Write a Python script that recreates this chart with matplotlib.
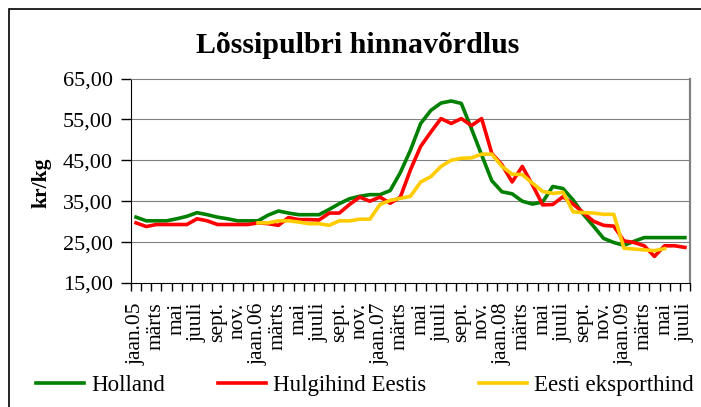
import numpy as np
import matplotlib
matplotlib.use('Agg')
import matplotlib.pyplot as plt
from matplotlib.patches import Rectangle
from matplotlib.ticker import FixedLocator, FuncFormatter

plt.rcParams['font.family'] = ['Liberation Serif', 'DejaVu Serif']

# kuud jaan.05 ... juuli.09
months = ['jaan', 'veebr', 'märts', 'apr', 'mai', 'juuni', 'juuli', 'aug',
          'sept.', 'okt.', 'nov.', 'dets.']
categories = []
for year in range(5, 10):
    for m_i, m in enumerate(months):
        if year == 9 and m_i > 6:
            break
        categories.append('jaan.%02d' % year if m_i == 0 else m)

holland = [31.1, 30.2, 30.2, 30.2, 30.7, 31.3, 32.2, 31.7, 31.1, 30.7, 30.2, 30.2,
           30.2, 31.6, 32.6, 32.1, 31.7, 31.7, 31.7, 33.0, 34.4, 35.6, 36.2, 36.6,
           36.6, 37.6, 42.0, 47.5, 54.0, 57.2, 59.0, 59.5, 58.9, 52.7, 46.3, 40.0,
           37.3, 36.8, 35.0, 34.3, 34.8, 38.6, 38.1, 35.3, 31.8, 28.9, 25.9, 24.9,
           24.2, 25.2, 26.1, 26.1, 26.1, 26.1, 26.1]
hulgihind = [29.7, 28.8, 29.3, 29.3, 29.3, 29.3, 30.7, 30.2, 29.3, 29.3, 29.3, 29.3,
             29.7, 29.5, 29.1, 31.0, 30.5, 30.5, 30.4, 32.1, 32.1, 34.2, 36.0, 35.0,
             36.0, 34.5, 36.0, 42.7, 48.4, 51.9, 55.2, 54.0, 55.2, 53.5, 55.2, 46.7,
             43.9, 39.7, 43.5, 39.0, 34.1, 34.2, 36.1, 34.3, 32.2, 30.1, 29.1, 28.9,
             25.3, 24.9, 24.1, 21.5, 24.1, 24.1, 23.7]
eksport = [np.nan] * 12 + [
    29.7, 29.7, 30.2, 30.2, 29.9, 29.5, 29.5, 29.1, 30.2, 30.2, 30.6, 30.6,
    34.2, 35.2, 35.7, 36.2, 39.7, 41.0, 43.5, 45.0, 45.5, 45.6, 46.5, 46.5,
    43.5, 41.6, 41.5, 39.4, 37.4, 36.9, 37.2, 32.4, 32.2, 32.1, 31.8, 31.8,
    23.5, 23.3, 23.1, 22.9, 23.4] + [np.nan] * 2

W, H = 701, 407
fig = plt.figure(figsize=(W / 100, H / 100), dpi=100)
ax = fig.add_axes([131 / W, 1 - 283 / H, (690 - 131) / W, (283 - 78.5) / H])

x = np.arange(len(categories))
l1, = ax.plot(x, holland, color='#008000', lw=2.6, label='Holland')
l2, = ax.plot(x, hulgihind, color='#FF0000', lw=2.6, label='Hulgihind Eestis')
l3, = ax.plot(x, eksport, color='#FFCC00', lw=2.6, label='Eesti eksporthind')

ax.set_xlim(-0.5, len(categories) - 0.5)
ax.set_ylim(15, 65)
ax.set_yticks(np.arange(15, 66, 10))
ax.yaxis.set_major_formatter(FuncFormatter(lambda v, p: ('%.2f' % v).replace('.', ',')))
ax.tick_params(axis='y', length=7, width=1, labelsize=16, pad=6, direction='out')
for yv in [25, 35, 45, 55]:
    ax.axhline(yv, color='#808080', lw=0.8, zorder=0)

ax.set_xticks(x[::2])
ax.set_xticklabels(categories[::2], rotation=90)
ax.xaxis.set_minor_locator(FixedLocator(np.arange(-0.5, len(categories), 1)))
ax.tick_params(axis='x', which='major', length=0, labelsize=15.5, pad=14)
ax.tick_params(axis='x', which='minor', length=6, width=1, direction='out')

ax.spines['top'].set_color('#808080')
ax.spines['top'].set_linewidth(0.8)
ax.spines['right'].set_color('#808080')
ax.spines['right'].set_linewidth(1.6)
ax.spines['left'].set_color('black')
ax.spines['bottom'].set_color('black')

ax.set_ylabel('kr/kg', fontsize=15.5, fontweight='bold')
ax.yaxis.set_label_coords(-(131 - 52) / (690 - 131), 0.49)

fig.text(358 / W, 1 - 53 / H, 'Lõssipulbri hinnavõrdlus', fontsize=21.5,
         fontweight='bold', ha='center', va='baseline')

fig.legend(handles=[l1, l2, l3], loc='center left', bbox_to_anchor=(36 / W, 1 - 385 / H),
           ncol=3, frameon=False, fontsize=16.5, handlelength=2.1, handletextpad=0.3,
           columnspacing=2.3, borderpad=0, borderaxespad=0)

fig.add_artist(Rectangle((9 / W, -0.05), 1.1, 1.05 - 9 / H, transform=fig.transFigure,
                         fill=False, edgecolor='black', lw=1.2, clip_on=False))

fig.savefig('out.png', dpi=100)
